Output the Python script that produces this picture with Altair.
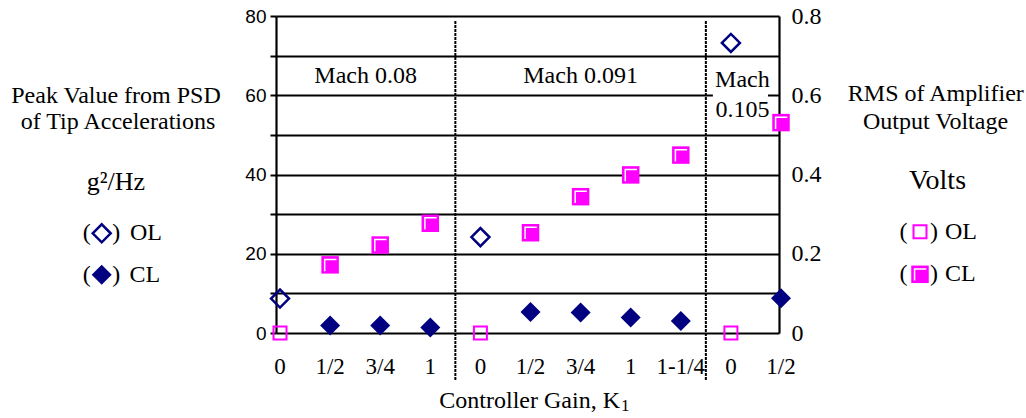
import altair as alt
import pandas as pd

# ---------------- data ----------------
mach_groups = ["Mach 0.08", "Mach 0.091", "Mach 0.105"]
group_sizes = [4, 5, 2]
gain_labels = ["0", "1/2", "3/4", "1", "0", "1/2", "3/4", "1", "1-1/4", "0", "1/2"]
psd_ol = [8.7, None, None, None, 24.2, None, None, None, None, 73.2, None]
psd_cl = [None, 1.9, 1.9, 1.4, None, 5.3, 5.2, 3.9, 3.0, None, 8.8]
rms_ol = [0.0, None, None, None, 0.0, None, None, None, None, 0.0, None]
rms_cl = [None, 0.172, 0.222, 0.277, None, 0.253, 0.344, 0.399, 0.449, None, 0.531]

# ---------------- styling ----------------
NAVY = "#000080"
MAG = "#FF00FF"
SERIF = "Liberation Serif"
SANS = "Liberation Sans"
W, H = 503, 317
X_DOM = [-0.08, 9.96]

slots = list(range(len(gain_labels)))
base = pd.DataFrame({"slot": slots, "gain": gain_labels, "psd_ol": psd_ol,
                     "psd_cl": psd_cl, "rms_ol": rms_ol, "rms_cl": rms_cl})


def series(col):
    return base[["slot", col]].dropna().rename(columns={col: "v"})


left_axis = alt.Axis(values=list(range(0, 81, 10)),
                     labelExpr="datum.value % 20 == 0 ? datum.label : ''",
                     grid=True, gridColor="black", gridWidth=2.2, gridOpacity=1,
                     domainColor="black", domainWidth=2.2,
                     tickColor="black", tickWidth=2, tickSize=6,
                     labelFont=SANS, labelFontSize=19, labelColor="black",
                     labelPadding=4, title=None)
right_axis = alt.Axis(orient="right", values=[0, 0.2, 0.4, 0.6, 0.8],
                      labelExpr="datum.value == 0 ? '0' : format(datum.value, '.1f')",
                      grid=False, ticks=False, domainColor="black", domainWidth=2.2,
                      labelFont=SERIF, labelFontSize=24, labelColor="black",
                      labelPadding=12, title=None)

xs = alt.Scale(domain=X_DOM, nice=False)
yls = alt.Scale(domain=[0, 80], nice=False)
yrs = alt.Scale(domain=[0, 0.8], nice=False)


def X(f):
    return alt.X(f, type="quantitative", scale=xs, axis=None)


def YL(f):
    return alt.Y(f, type="quantitative", scale=yls, axis=left_axis)


def YR(f):
    return alt.Y(f, type="quantitative", scale=yrs, axis=right_axis)


# ---------------- group boundaries / labels ----------------
bounds = [X_DOM[0]]
acc = 0
for n in group_sizes:
    acc += n
    bounds.append(acc - 0.5)
bounds[-1] = X_DOM[1]
seps = pd.DataFrame({"x": bounds[1:-1]})

lab_rows = []
rect_rows = []
for i, name in enumerate(mach_groups):
    cx = (bounds[i] + bounds[i + 1]) / 2
    if group_sizes[i] < 3:
        a, b = name.split(" ")
        lab_rows.append({"t": a, "x": cx, "y": 63.9})
        lab_rows.append({"t": b, "x": cx, "y": 56.2})
        rect_rows.append({"x0": bounds[i] + 0.14, "x1": bounds[i + 1] - 0.22,
                          "y0": 53, "y1": 68})
    else:
        lab_rows.append({"t": name, "x": cx, "y": 64.8})
labs = pd.DataFrame(lab_rows)
rects = pd.DataFrame(rect_rows)

# ---------------- left (g^2/Hz) layers ----------------
ol_d = alt.Chart(series("psd_ol")).mark_point(
    shape="diamond", filled=False, size=324, strokeWidth=2.5, color=NAVY, opacity=1
).encode(x=X("slot"), y=YL("v"))
cl_d = alt.Chart(series("psd_cl")).mark_point(
    shape="diamond", filled=True, size=400, color=NAVY, opacity=1
).encode(x=X("slot"), y=YL("v"))
white = alt.Chart(rects).mark_rect(color="white").encode(
    x=X("x0"), x2="x1", y=YL("y0"), y2="y1")
mach_txt = alt.Chart(labs).mark_text(font=SERIF, fontSize=24, color="black",
                                     baseline="middle").encode(
    x=X("x"), y=YL("y"), text="t:N")
sep = alt.Chart(seps).mark_rule(color="black", strokeWidth=2, strokeDash=[3, 1]).encode(
    x=X("x"), y=alt.value(5), y2=alt.value(364))
gain_txt = alt.Chart(base).mark_text(font=SERIF, fontSize=23, color="black",
                                     baseline="middle").encode(
    x=X("slot"), y=alt.value(351), text="gain:N")

one = pd.DataFrame({"k": [0]})


def note(text, x, y, size=24, align="center", font=SERIF):
    return alt.Chart(one).mark_text(text=text, font=font, fontSize=size, align=align,
                                    baseline="middle", color="black").encode(
        x=alt.value(x), y=alt.value(y))


def glyph(x, y, **kw):
    return alt.Chart(one).mark_point(opacity=1, **kw).encode(x=alt.value(x), y=alt.value(y))


notes = [
    note("Peak Value from PSD", -160, 79.8),
    note("of Tip Accelerations", -158, 105.5),
    note("g²/Hz", -160, 165.5, size=26),
    note("(", -189.3, 217), note(")", -159.7, 217), note("OL", -146, 217, align="left"),
    note("(", -189.3, 258.7), note(")", -159.7, 258.7), note("CL", -146.5, 258.7, align="left"),
    note("RMS of Amplifier", 659.8, 78),
    note("Output Voltage", 659.5, 105.7),
    note("Volts", 661.5, 164.5, size=28),
    note("(", 627.5, 215.7), note(")", 658, 215.7), note("OL", 669, 215.7, align="left"),
    note("(", 627.5, 258.3), note(")", 658, 258.3), note("CL", 669, 258.3, align="left"),
    note("Controller Gain, K", 344, 384.8, align="right"),
    note("1", 345, 389.5, size=17, align="left"),
]
glyphs = [
    glyph(-174.3, 217.3, shape="diamond", filled=False, size=324, strokeWidth=2.5, color=NAVY),
    glyph(-174.3, 258.7, shape="diamond", filled=True, size=400, color=NAVY),
    glyph(644, 215.7, shape="square", filled=False, size=169, strokeWidth=2, color=MAG),
    glyph(644, 258.3, shape="square", filled=True, size=306, color=MAG),
    glyph(644, 258.3, shape="M-0.62,0.72L-0.62,-0.62L0.72,-0.62", filled=False, size=306,
          stroke="white", strokeWidth=1.5),
]

left = alt.layer(ol_d, cl_d, white, mach_txt, sep, gain_txt, *notes, *glyphs)

# ---------------- right (Volts) layers ----------------
ol_s = alt.Chart(series("rms_ol")).mark_point(
    shape="square", filled=False, size=169, strokeWidth=2, color=MAG, opacity=1
).encode(x=X("slot"), y=YR("v"))
cl_s = alt.Chart(series("rms_cl")).mark_point(
    shape="square", filled=True, size=306, color=MAG, opacity=1
).encode(x=X("slot"), y=YR("v"))
cl_g = alt.Chart(series("rms_cl")).mark_point(
    shape="M-0.62,0.72L-0.62,-0.62L0.72,-0.62", filled=False, size=306,
    stroke="white", strokeWidth=1.5, opacity=1
).encode(x=X("slot"), y=YR("v"))
right = alt.layer(ol_s, cl_s, cl_g)

chart = alt.layer(left, right).resolve_scale(y="independent").properties(
    width=W, height=H,
    autosize=alt.AutoSizeParams(type="none"),
    padding={"left": 276, "top": 16, "right": 247, "bottom": 85},
    background="white",
).configure_view(stroke=None)

chart.save("out.html", embed_options={"renderer": "svg", "actions": False})
